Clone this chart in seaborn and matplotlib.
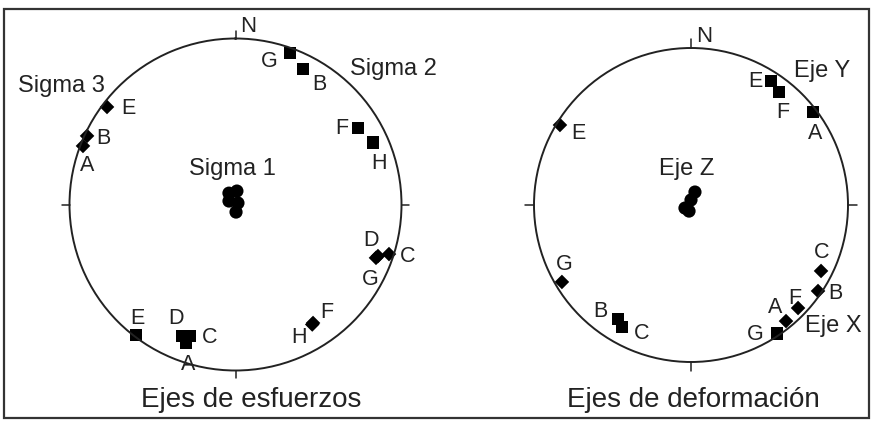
import numpy as np
import pandas as pd
import matplotlib
matplotlib.use('Agg')
import matplotlib.pyplot as plt
import seaborn as sns

# ---- Ejes de esfuerzos ----
sigma1_trend = [330, 6, 298, 59, 176]
sigma1_plunge = [83.6, 83.4, 86.4, 88.6, 86.3]

sigma2_labels = ['G', 'B', 'F', 'H', 'E', 'D', 'C', 'A']
sigma2_trend = [19.8, 26.5, 58.0, 65.6, 217.3, 202.1, 199.1, 199.7]
sigma2_plunge = [3.4, 9.7, 14.1, 9.9, 1.3, 15.6, 17.3, 12.4]

sigma3_labels = ['E', 'B', 'A', 'D', 'C', 'G', 'F', 'H']
sigma3_trend = [307.2, 294.8, 291.0, 109.9, 107.9, 110.8, 146.8, 147.4]
sigma3_plunge = [3.2, 1.7, 1.8, 9.6, 3.2, 10.4, 15.8, 15.3]

# ---- Ejes de deformacion ----
ejez_trend = [17, 0, 243, 198]
ejez_plunge = [83.0, 87.4, 86.5, 86.7]

ejey_labels = ['E', 'F', 'A', 'B', 'C', 'G']
ejey_trend = [32.8, 37.9, 52.7, 212.6, 209.5, 146.3]
ejey_plunge = [6.7, 9.7, 2.6, 14.9, 11.7, 1.5]

ejex_labels = ['E', 'G', 'C', 'B', 'F', 'A']
ejex_trend = [301.4, 239.2, 116.9, 124.1, 133.9, 140.7]
ejex_plunge = [2.5, 4.8, 7.9, 2.6, 6.0, 5.0]

puntos_card = [0, 90, 180, 270]

# desplazamiento de las letras (pixeles, y hacia arriba)
off_sigma2 = {'G': (-21, -7), 'B': (16, -14), 'F': (-16, 0), 'H': (6, -20),
              'E': (1, 18), 'D': (-6, 19), 'C': (20, -1), 'A': (2, -21)}
off_sigma3 = {'E': (21, -1), 'B': (16, -2), 'A': (4, -19), 'D': (-7, 17),
              'C': (19, -1), 'G': (-6, -21), 'F': (14, 11), 'H': (-13, -12)}
off_ejey = {'E': (-16, 0), 'F': (4, -19), 'A': (2, -20), 'B': (-18, 8),
            'C': (20, -5), 'G': (-22, 0)}
off_ejex = {'E': (18, -7), 'G': (2, 18), 'C': (1, 19), 'B': (17, -1),
            'F': (-3, 11), 'A': (-11, 15)}


def proj(plunge):
    # Schmidt (igual area), radio 1 en el borde
    return np.sqrt(2) * np.sin(np.radians(90 - np.array(plunge)) / 2)


def tabla(trend, plunge, tipo, labels=None):
    df = pd.DataFrame({'theta': np.radians(trend), 'r': proj(plunge)})
    df['tipo'] = tipo
    df['etiqueta'] = labels if labels is not None else ''
    return df


sns.set_style('white')
plt.rcParams['font.family'] = ['Liberation Sans', 'DejaVu Sans']

fig = plt.figure(figsize=(8.73, 4.27), dpi=100)

marcas = {'cuadro': 's', 'rombo': 'D', 'circulo': 'o'}
tamanos = {'cuadro': 85, 'rombo': 55, 'circulo': 90}
tinta = '#222222'


def red(rect, df, offsets, largo):
    ax = fig.add_axes(rect, projection='polar')
    ax.set_theta_zero_location('N')
    ax.set_theta_direction(-1)
    sns.scatterplot(data=df, x='theta', y='r', style='tipo', markers=marcas,
                    size='tipo', sizes=tamanos, color='black', linewidth=0,
                    legend=False, ax=ax, clip_on=False)
    # marcas N, E, S, O por fuera del circulo
    for a in np.radians(puntos_card):
        ax.plot([a, a], [1, 1 + largo], color=tinta, lw=1.1, clip_on=False)
    ax.set_ylim(0, 1)
    ax.set_yticks([])
    ax.set_xticks([])
    ax.grid(False)
    ax.set_xlabel('')
    ax.set_ylabel('')
    ax.spines['polar'].set_linewidth(1.4)
    ax.spines['polar'].set_color(tinta)
    for _, fila in df.iterrows():
        if fila['etiqueta'] == '':
            continue
        dx, dy = offsets[fila['tipo']][fila['etiqueta']]
        ax.annotate(fila['etiqueta'], (fila['theta'], fila['r']), xytext=(dx, dy),
                    textcoords='offset pixels', ha='center', va='center',
                    fontsize=15.5, color=tinta)
    return ax


izq = pd.concat([tabla(sigma1_trend, sigma1_plunge, 'circulo'),
                 tabla(sigma2_trend, sigma2_plunge, 'cuadro', sigma2_labels),
                 tabla(sigma3_trend, sigma3_plunge, 'rombo', sigma3_labels)])
der = pd.concat([tabla(ejez_trend, ejez_plunge, 'circulo'),
                 tabla(ejey_trend, ejey_plunge, 'cuadro', ejey_labels),
                 tabla(ejex_trend, ejex_plunge, 'rombo', ejex_labels)])

ax1 = red([69.5 / 873, 55.5 / 427, 332 / 873, 332 / 427], izq,
          {'cuadro': off_sigma2, 'rombo': off_sigma3}, 0.048)
ax2 = red([534 / 873, 64 / 427, 314 / 873, 314 / 427], der,
          {'cuadro': off_ejey, 'rombo': off_ejex}, 0.055)

kw = dict(ha='center', va='center', color=tinta)
ax1.text(0.538, 1.04, 'N', transform=ax1.transAxes, fontsize=16, **kw)
ax1.text(-0.023, 0.86, 'Sigma 3', transform=ax1.transAxes, fontsize=17, **kw)
ax1.text(0.975, 0.911, 'Sigma 2', transform=ax1.transAxes, fontsize=17, **kw)
ax1.text(0.492, 0.61, 'Sigma 1', transform=ax1.transAxes, fontsize=17, **kw)

ax2.text(0.541, 1.041, 'N', transform=ax2.transAxes, fontsize=16, **kw)
ax2.text(0.917, 0.93, 'Eje Y', transform=ax2.transAxes, fontsize=17, **kw)
ax2.text(0.487, 0.618, 'Eje Z', transform=ax2.transAxes, fontsize=17, **kw)
ax2.text(0.952, 0.118, 'Eje X', transform=ax2.transAxes, fontsize=17, **kw)

fig.text(251 / 873, 1 - 400 / 427, 'Ejes de esfuerzos', fontsize=20, **kw)
fig.text(693 / 873, 1 - 400 / 427, 'Ejes de deformación', fontsize=20, **kw)

marco = plt.Rectangle((4 / 873, 8 / 427), 865 / 873, 409 / 427, transform=fig.transFigure,
                      fill=False, edgecolor='#333333', linewidth=1.6)
fig.patches.append(marco)

fig.savefig('out.png', dpi=100)
